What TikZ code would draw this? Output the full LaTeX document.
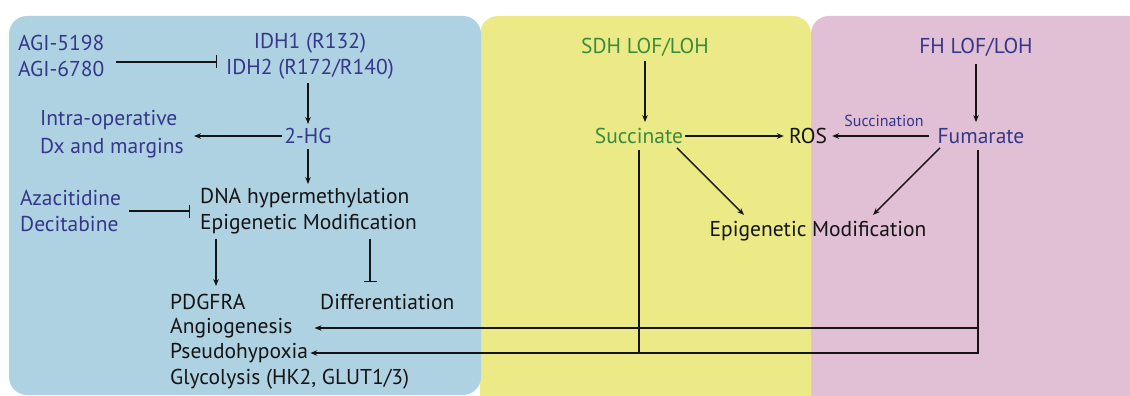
\documentclass[tikz,border=0pt]{standalone}
\usepackage{fontspec}
\setmainfont{PT Sans}
\usetikzlibrary{arrows.meta,calc}
\definecolor{pblue}{RGB}{175,210,227}
\definecolor{pyellow}{RGB}{235,234,135}
\definecolor{ppink}{RGB}{225,191,213}
\definecolor{tnavy}{RGB}{52,55,138}
\definecolor{tgreen}{RGB}{58,140,58}
\definecolor{tblack}{RGB}{20,20,20}
\tikzset{
  lbl/.style={inner sep=0pt, font=\fontsize{21.5}{25.5}\selectfont, text=tblack},
  navy/.style={lbl, text=tnavy},
  green/.style={lbl, text=tgreen},
  arr/.style={line width=1.4pt, draw=tblack, -{Stealth[length=7pt,width=5.5pt]}},
  inh/.style={line width=1.4pt, draw=tblack, -{Bar[width=13pt,line width=1.4pt]}},
  plain/.style={line width=1.4pt, draw=tblack},
  panel/.style={rounded corners=18pt}
}
\begin{document}
\begin{tikzpicture}[x=1pt,y=-1pt]
\useasboundingbox (0,0) rectangle (1130,396);
\begin{scope}
\clip (0,0) rectangle (1130,396);
\fill[ppink,panel] (811,16) rectangle (1160,420);
\fill[pyellow,panel] (480,16) rectangle (811,420);
\fill[pblue,panel] (9,16) rectangle (481,395);
\end{scope}
% left panel
\node[navy,anchor=west,align=left] (agi) at (18,56) {AGI-5198\\AGI-6780};
\node[navy,align=center] (idh) at (310,56) {IDH1 (R132)\\IDH2 (R172/R140)};
\node[navy] (hg) at (308,136) {2-HG};
\node[navy,anchor=west,align=left,font=\fontsize{21.5}{27.5}\selectfont] (intra) at (40,134) {Intra-operative\\Dx and margins};
\node[navy,anchor=west,align=left] (aza) at (20,211) {Azacitidine\\Decitabine};
\node[lbl,anchor=west,align=left] (dna) at (200,211) {DNA hypermethylation\\Epigenetic Modification};
\node[lbl,anchor=west] (pdg) at (170,302) {PDGFRA};
\node[lbl,anchor=west] (diff) at (320,302) {Differentiation};
\node[lbl,anchor=west] (ang) at (170,328) {Angiogenesis};
\node[lbl,anchor=west] (pse) at (170,353) {Pseudohypoxia};
\node[lbl,anchor=west] (gly) at (170,379) {Glycolysis (HK2, GLUT1/3)};
% right panels
\node[green] (sdh) at (645,47) {SDH LOF/LOH};
\node[green] (suc) at (639,136) {Succinate};
\node[lbl] (ros) at (808,136) {ROS};
\node[navy] (fum) at (981,136) {Fumarate};
\node[navy] (fh) at (976,47) {FH LOF/LOH};
\node[navy,font=\fontsize{16}{18}\selectfont] (sucn) at (884,121) {Succination};
\node[lbl] (epi) at (818,231) {Epigenetic Modification};
% connectors
\draw[inh] ([xshift=12pt,yshift=-6pt]agi.east) -- ([xshift=-9pt,yshift=-6pt]idh.west);
\coordinate (idhb) at (hg.north |- idh.south);
\draw[arr] ([yshift=-4pt]idhb) -- ([yshift=4pt]hg.north);
\draw[arr] ([xshift=-2pt]hg.west) -- ([xshift=10pt,yshift=-2pt]intra.east);
\coordinate (dnat) at (hg.south |- dna.north);
\draw[arr] ([yshift=-5pt]hg.south) -- ([yshift=4pt]dnat);
\draw[inh] ([xshift=8pt]aza.east) -- ([xshift=-10pt]dna.west);
\coordinate (pdgtop) at ([xshift=16pt]dna.south west |- pdg.north);
\draw[arr] ([xshift=16pt,yshift=-5pt]dna.south west) -- ([yshift=8pt]pdgtop);
\coordinate (difftop) at ([xshift=170pt]dna.south west |- diff.north);
\draw[inh] ([xshift=170pt,yshift=-5pt]dna.south west) -- ([yshift=12pt]difftop);
\coordinate (suctop) at (sdh.south |- suc.north);
\draw[arr] ([yshift=-5pt]sdh.south) -- ([yshift=6pt]suctop);
\coordinate (fumtop) at (fh.south |- fum.north);
\draw[arr] ([yshift=-8pt]fh.south) -- ([yshift=6pt]fumtop);
\draw[arr] ([xshift=2pt]suc.east) -- ([xshift=-5pt]ros.west);
\draw[arr] ([xshift=-8pt]fum.west) -- ([xshift=5pt]ros.east);
\draw[arr] ([xshift=38pt,yshift=-4pt]suc.south) -- ([xshift=-74pt,yshift=6pt]epi.north);
\draw[arr] ([xshift=-41pt,yshift=-4pt]fum.south) -- ([xshift=55pt,yshift=6pt]epi.north);
\coordinate (fdown) at ([xshift=-3pt,yshift=-6pt]fum.south);
\draw[arr] (fdown) |- ([xshift=22pt]ang.east);
\draw[arr] (fdown) |- ([xshift=2pt]pse.east);
\coordinate (sdown) at ([yshift=-6pt]suc.south);
\draw[plain] (sdown) -- (sdown |- pse.east);
\end{tikzpicture}
\end{document}
